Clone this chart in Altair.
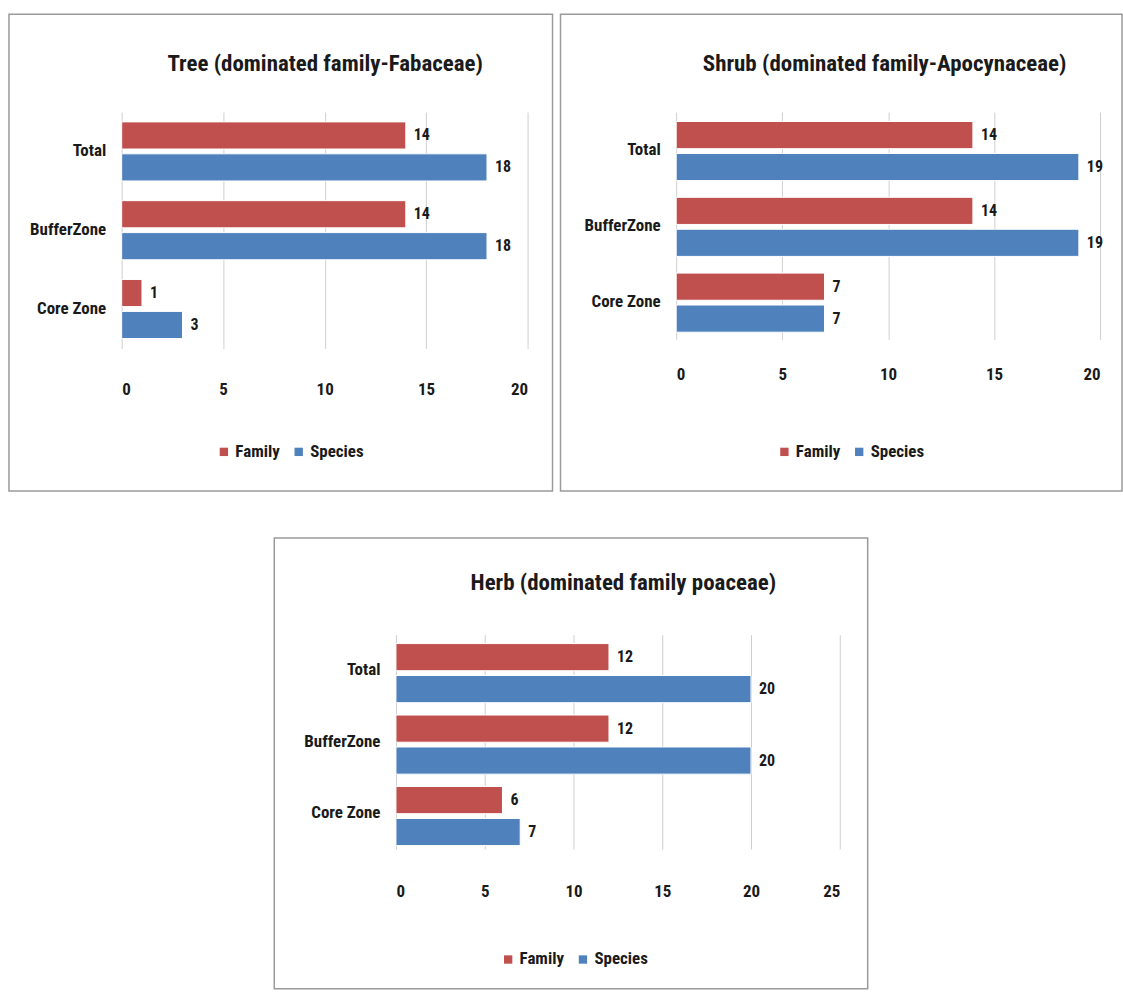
import altair as alt
import pandas as pd

zones = ["Total", "BufferZone", "Core Zone"]
series_names = ["Family", "Species"]

tree_title = "Tree (dominated family-Fabaceae)"
tree_family = [14, 14, 1]
tree_species = [18, 18, 3]

shrub_title = "Shrub (dominated family-Apocynaceae)"
shrub_family = [14, 14, 7]
shrub_species = [19, 19, 7]

herb_title = "Herb (dominated family poaceae)"
herb_family = [12, 12, 6]
herb_species = [20, 20, 7]

tick_20 = [0, 5, 10, 15, 20]
tick_25 = [0, 5, 10, 15, 20, 25]

RED = "#C0504D"
BLUE = "#4F81BD"
FONT = "Liberation Sans Narrow, Roboto Condensed, DejaVu Sans Condensed, Arial Narrow, sans-serif"
TXT = "#1a1a1a"


def panel(title, fam, spe, xmax, ticks, w, h, border, title_xy, legend_xy, label_pad):
    df = pd.DataFrame({
        "zone": zones + zones,
        "series": ["Family"] * 3 + ["Species"] * 3,
        "count": fam + spe,
    })
    base = alt.Chart(df).encode(
        y=alt.Y("zone:N", sort=zones, title=None,
                scale=alt.Scale(paddingInner=0.25, paddingOuter=0.125),
                axis=alt.Axis(domain=False, ticks=False, grid=False, labelPadding=16,
                              labelFontSize=17, labelFontWeight="bold", labelColor=TXT,
                              labelFont=FONT)),
        yOffset=alt.YOffset("series:N", sort=series_names,
                            scale=alt.Scale(paddingInner=0.15)),
        x=alt.X("count:Q", title=None,
                scale=alt.Scale(domain=[0, xmax], nice=False),
                axis=alt.Axis(values=ticks, grid=True, domain=False, ticks=False,
                              labelPadding=label_pad, labelFontSize=17,
                              labelFontWeight="bold", labelColor=TXT, labelFont=FONT,
                              gridColor="#cfcfcf", gridWidth=1)),
    )
    bars = base.mark_bar(stroke="white", strokeWidth=1).encode(
        color=alt.Color("series:N", sort=series_names,
                        scale=alt.Scale(domain=series_names, range=[RED, BLUE]),
                        legend=alt.Legend(orient="none", legendX=legend_xy[0],
                                          legendY=legend_xy[1], direction="horizontal",
                                          title=None, symbolType="square",
                                          symbolSize=70, symbolStrokeWidth=0,
                                          labelFontSize=17, labelFont=FONT,
                                          labelFontWeight="bold", labelColor=TXT,
                                          columnPadding=10, labelOffset=3))
    )
    labels = base.mark_text(align="left", baseline="middle", dx=8, fontSize=16,
                            fontWeight="bold", font=FONT, color=TXT).encode(
        text="count:Q")
    frame = alt.Chart(pd.DataFrame({"k": [0]})).mark_rect(
        filled=False, stroke="#9a9a9a", strokeWidth=1.5).encode(
        x=alt.value(border[0]), x2=alt.value(border[1]),
        y=alt.value(border[2]), y2=alt.value(border[3]))
    ttl = alt.Chart(pd.DataFrame({"t": [title]})).mark_text(
        align="center", baseline="middle", fontSize=23, fontWeight="bold",
        font=FONT, color=TXT).encode(
        text="t:N", x=alt.value(title_xy[0]), y=alt.value(title_xy[1]))
    return alt.layer(frame, bars, labels, ttl).properties(width=w, height=h)


p1 = panel(tree_title, tree_family, tree_species, 20, tick_20, 407, 237,
           (-113, 432, -98, 380), (204, -48), (94, 332), 33)
p2 = panel(shrub_title, shrub_family, shrub_species, 20, tick_20, 425, 228,
           (-116, 447, -98, 380), (209, -48), (100, 332), 27)
p3 = panel(herb_title, herb_family, herb_species, 25, tick_25, 445, 215,
           (-122, 473, -97, 355), (228, -52), (104, 317), 35)

# invisible white spacer that pushes the bottom panel to the right
SPACER_W = 151
spacer = alt.Chart(pd.DataFrame({"s": [0]})).mark_rect(
    filled=False, stroke="white", strokeWidth=1).encode(
    x=alt.value(0), x2=alt.value(SPACER_W), y=alt.value(0), y2=alt.value(2)
).properties(width=SPACER_W, height=2)

top = alt.hconcat(p1, p2, spacing=6).resolve_scale(
    color="independent").resolve_legend(color="independent")
bottom = alt.hconcat(spacer, p3, spacing=0).resolve_scale(
    color="independent").resolve_legend(color="independent")
chart = alt.vconcat(top, bottom, spacing=45).properties(
    padding={"left": 8, "top": 12, "right": 0, "bottom": 2},
    background="white",
).resolve_scale(color="independent").resolve_legend(color="independent").configure_view(strokeWidth=0)

chart.save("out.html", embed_options={"renderer": "svg", "actions": False})
